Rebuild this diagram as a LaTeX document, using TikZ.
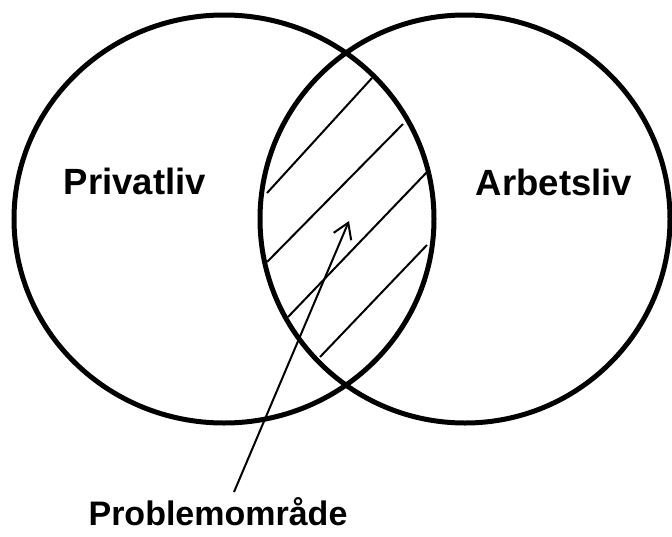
\documentclass[tikz,border=0pt]{standalone}
\usepackage{fontspec}
\setmainfont{Liberation Sans}
\usetikzlibrary{arrows.meta}

\begin{document}
\begin{tikzpicture}[x=1pt, y=-1pt]
  \useasboundingbox (0,0) rectangle (672,536);

  \coordinate (p) at (224,219);
  \coordinate (a) at (465,219);
  \coordinate (tip)  at (349,221);
  \coordinate (tail) at (234,492);

  \path[draw, line width=5pt] (p) ellipse [x radius=210, y radius=204];
  \path[draw, line width=5pt] (a) ellipse [x radius=205, y radius=204];

  \draw[line width=2pt] (267,193) -- (372,78);
  \draw[line width=2pt] (267,262) -- (403,124);
  \draw[line width=2pt] (288,317) -- (427,172);
  \draw[line width=2pt] (320,357) -- (427,245);

  \node[anchor=base, font=\bfseries\fontsize{36.5}{44}\selectfont] (priv) at (135,194) {Privatliv};
  \node[anchor=base, font=\bfseries\fontsize{36.5}{44}\selectfont] (arb)  at (554,195) {Arbetsliv};
  \node[anchor=base, font=\bfseries\fontsize{34}{41}\selectfont] (prob) at (218,525) {Problemområde};

  \draw[line width=2pt, -{Straight Barb[length=15pt, width=19pt]}] (tail) -- (tip);

\end{tikzpicture}
\end{document}
